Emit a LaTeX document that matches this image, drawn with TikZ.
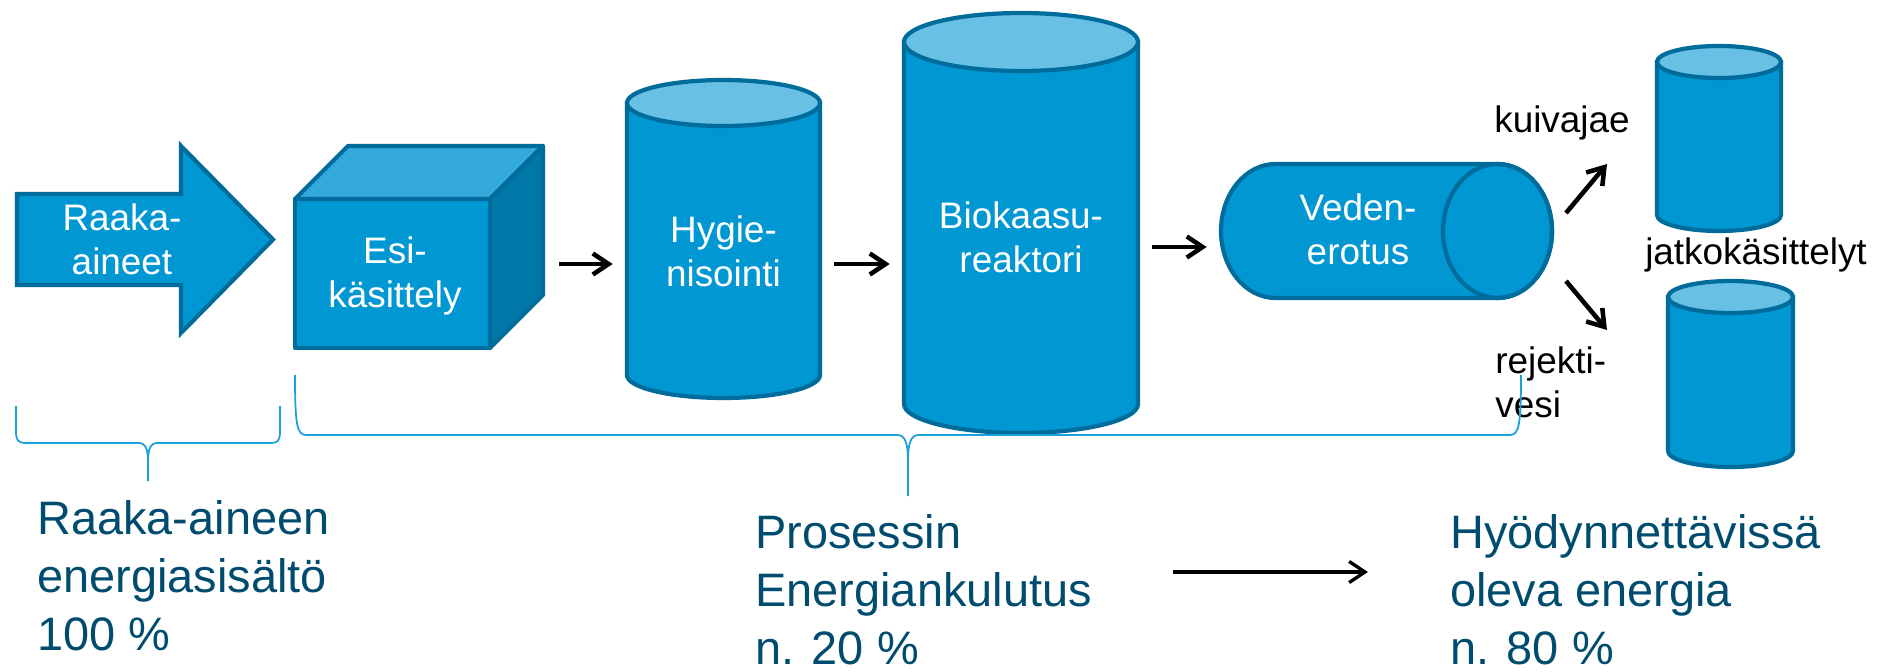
\documentclass[tikz,border=0pt]{standalone}
\usepackage{fontspec}
\setmainfont{Liberation Sans}
\usepackage{tikz}
\usetikzlibrary{arrows.meta}

\definecolor{tankfill}{RGB}{0,151,211}
\definecolor{tankline}{RGB}{0,108,155}
\definecolor{tanktop}{RGB}{104,192,228}
\definecolor{cubetop}{RGB}{51,170,219}
\definecolor{cubeside}{RGB}{0,120,168}
\definecolor{bracecol}{RGB}{28,160,219}
\definecolor{notecol}{RGB}{0,76,110}

\newcommand{\unitfont}{\fontsize{21}{25.6}\selectfont}
\newcommand{\notefont}{\fontsize{26.7}{33}\selectfont}

% upright tank: centre x, top y, bottom y, x radius, y radius
\newcommand{\tank}[5]{%
  \filldraw[tankbody] (#1-#4,#2) -- (#1-#4,#3) arc[start angle=180, end angle=0, x radius=#4, y radius=#5] -- (#1+#4,#2) -- cycle;
  \filldraw[tankbody, fill=tanktop] (#1,#2) ellipse[x radius=#4, y radius=#5];
}

\begin{document}
\begin{tikzpicture}[x=0.02cm, y=-0.02cm]
        \tikzstyle{tankbody} = [fill=tankfill, draw=tankline, line width=2.4pt]
        \tikzstyle{unit} = [anchor=base, align=center, text=white, font=\unitfont, inner sep=0pt]
        \tikzstyle{tag} = [anchor=base, align=left, text=black, font=\unitfont, inner sep=0pt]
        \tikzstyle{note} = [anchor=base west, align=left, text=notecol, font=\notefont, inner sep=0pt]
        \tikzstyle{flow} = [line width=2.6pt, -{Straight Barb[length=9pt, width=12pt]}, shorten <=6.8pt, shorten >=6.8pt]
        \tikzstyle{brace} = [draw=bracecol, line width=1pt]
        \useasboundingbox (0,0) rectangle (1881,672);

        % feed arrow and pre-treatment box
        \filldraw[tankbody] (17,194) -- (181,194) -- (181,146) -- (273,239.5) -- (181,333) -- (181,285) -- (17,285) -- cycle;
        \begin{scope}[line join=round]
        \filldraw[tankbody] (295,199) rectangle (490,348);
        \filldraw[tankbody, fill=cubetop] (295,199) -- (348,146) -- (543,146) -- (490,199) -- cycle;
        \filldraw[tankbody, fill=cubeside] (490,199) -- (543,146) -- (543,295) -- (490,348) -- cycle;
        \end{scope}

        % tanks
        \tank{723.5}{103}{375}{96.5}{23}
        \tank{1021}{42}{404}{117}{29}
        \tank{1719}{62}{215}{62}{16}
        \tank{1730.5}{297}{451}{62.5}{16}

        % lying separator
        \filldraw[tankbody] (1497.5,164) -- (1275.5,164) arc[start angle=270, end angle=90, x radius=54.5, y radius=67] -- (1497.5,298) arc[start angle=90, end angle=-90, x radius=54.5, y radius=67] -- cycle;
        \draw[tankbody, fill=none] (1497.5,231) ellipse[x radius=54.5, y radius=67];

        % nodes sit on the baseline of their last line
        \node(raaka)[unit] at (122,275) {Raaka-\\aineet};
        \node(esi)[unit, minimum width=6.08cm] at (395,308) {Esi-\\käsittely};
        \node(hyg)[unit, minimum width=3.94cm] at (723.5,287) {Hygie-\\nisointi};
        \node(bio)[unit, minimum width=4.76cm] at (1021,273) {Biokaasu-\\reaktori};
        \node(veden)[unit, minimum width=5.56cm] at (1358,265) {Veden-\\erotus};

        \node(kuiva)[tag] at (1562,133) {kuivajae};
        \node(jatko)[tag] at (1756,265) {jatkokäsittelyt};
        \node(rejekti)[tag, anchor=base west] at (1495,418) {rejekti-\\vesi};

        \coordinate (rowA) at (0,264);
        \coordinate (rowB) at (0,247);
        \draw[flow] (esi.east |- rowA) -- (hyg.west |- rowA);
        \draw[flow] (hyg.east |- rowA) -- (bio.west |- rowA);
        \draw[flow] (bio.east |- rowB) -- (veden.west |- rowB);

        \coordinate (dryfrom) at (1566,213);
        \coordinate (dryto) at (1607,164);
        \coordinate (rejfrom) at (1566,281);
        \coordinate (rejto) at (1607,330);
        \draw[flow, shorten <=0pt, shorten >=0pt] (dryfrom) -- (dryto);
        \draw[flow, shorten <=0pt, shorten >=0pt] (rejfrom) -- (rejto);

        % braces
        \draw[brace] (16,406) -- (16,431) .. controls (16,441) and (18,443) .. (27,443) -- (138,443) .. controls (146,443) and (148,449) .. (148,463) -- (148,481)
            (148,463) .. controls (148,449) and (150,443) .. (158,443) -- (270,443) .. controls (278,443) and (280,441) .. (280,431) -- (280,406);
        \draw[brace] (295,375) .. controls (295,425) and (297,435) .. (306,435) -- (897,435) .. controls (905,435) and (908,442) .. (908,462) -- (908,496)
            (908,462) .. controls (908,442) and (911,435) .. (919,435) -- (1510,435) .. controls (1519,435) and (1521,425) .. (1521,375);

        \node(osuus)[note] at (37,650) {Raaka-aineen\\energiasisältö\\100 \%};
        \node(prosessi)[note] at (755,664) {Prosessin\\Energiankulutus\\n. 20 \%};
        \node(hyoty)[note] at (1450,664) {Hyödynnettävissä\\oleva energia\\n. 80 \%};

        \coordinate (rowC) at (0,572);
        \draw[flow, line width=1.9pt, shorten <=46pt, shorten >=46.7pt] (prosessi.east |- rowC) -- (hyoty.west |- rowC);
\end{tikzpicture}
\end{document}
